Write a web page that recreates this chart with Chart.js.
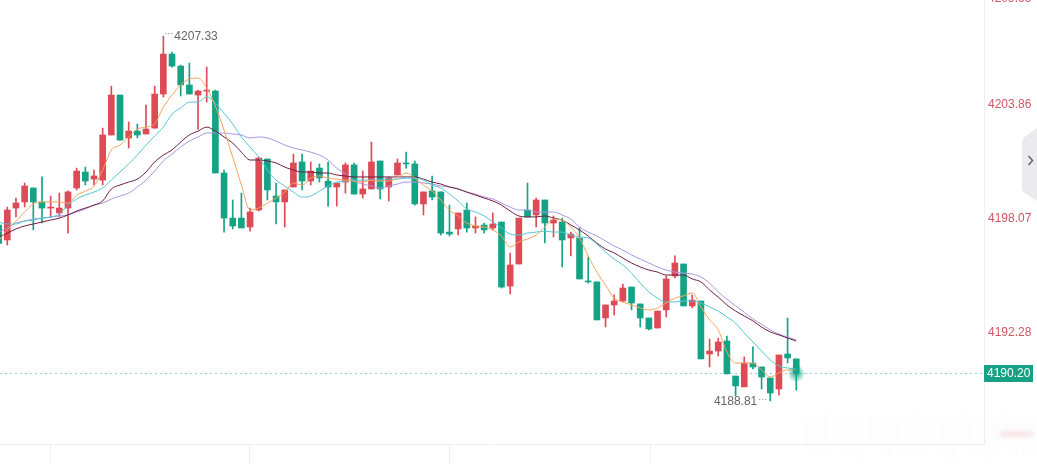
<!DOCTYPE html>
<html>
<head>
<meta charset="utf-8">
<script src="https://cdn.jsdelivr.net/npm/chart.js@4.4.1/dist/chart.umd.min.js"></script>
<style>
  html, body { margin: 0; padding: 0; background: #fff; overflow: hidden; }
  #wrap { position: absolute; left: 0; top: -20px; width: 1037px; height: 484px; }
</style>
</head>
<body>
<div id="wrap"><canvas id="klineChart"></canvas></div>
<script>
// candle data (one per bar, oldest first)
const openData = [4197.74,4196.98,4198.60,4198.91,4199.62,4198.91,4198.60,4198.35,4198.60,4199.62,
  4200.43,4200.07,4200.02,4202.31,4204.34,4202.16,4202.51,4202.36,4202.66,4204.39,
  4206.42,4205.81,4204.85,4204.34,4204.54,4204.54,4200.38,4198.09,4198.09,4197.64,
  4198.50,4201.09,4199.21,4198.91,4199.67,4200.94,4199.97,4200.63,4199.97,4199.67,
  4199.92,4200.79,4199.31,4199.57,4200.99,4199.67,4200.28,4200.89,4200.84,4198.81,
  4199.47,4199.42,4197.38,4197.54,4198.50,4197.59,4197.74,4197.59,4197.89,4194.64,
  4195.76,4198.50,4198.25,4199.01,4197.84,4197.89,4197.08,4197.08,4194.90,4194.85,
  4193.02,4193.68,4193.88,4194.59,4193.73,4193.02,4192.51,4193.43,4195.15,4195.76,
  4193.63,4193.88,4191.19,4191.34,4191.85,4190.07,4189.52,4190.73,4190.53,4189.97,
  4189.41,4191.19,4190.94];
const highData = [4197.90,4198.65,4199.11,4199.87,4199.62,4200.18,4199.21,4199.36,4199.47,4200.63,
  4200.68,4200.53,4202.66,4204.79,4204.34,4202.97,4202.87,4203.83,4204.79,4207.33,
  4206.52,4205.86,4205.96,4204.59,4205.76,4204.59,4200.53,4199.01,4199.36,4198.60,
  4201.19,4201.09,4199.87,4199.52,4201.34,4201.34,4200.94,4200.84,4200.94,4199.87,
  4200.89,4200.89,4200.48,4201.95,4200.99,4200.18,4201.09,4201.44,4200.99,4199.42,
  4200.23,4199.42,4198.75,4198.35,4198.86,4198.15,4197.84,4198.35,4197.89,4196.32,
  4198.09,4199.87,4199.11,4199.01,4198.20,4198.09,4197.38,4197.59,4196.11,4194.85,
  4193.68,4194.19,4194.74,4194.59,4193.73,4193.02,4193.37,4195.15,4196.17,4195.76,
  4194.19,4193.88,4191.95,4192.00,4192.10,4190.07,4191.04,4191.55,4190.53,4189.97,
  4191.14,4193.02,4190.94];
const lowData = [4196.60,4196.72,4198.15,4198.65,4197.49,4197.84,4198.15,4198.15,4197.33,4199.52,
  4199.77,4199.77,4199.77,4202.31,4202.05,4201.65,4202.16,4202.36,4202.66,4204.24,
  4205.76,4204.29,4204.39,4202.61,4203.98,4200.38,4197.38,4197.54,4197.59,4197.43,
  4198.45,4199.01,4197.79,4197.64,4199.67,4199.52,4199.77,4199.92,4198.70,4198.70,
  4199.36,4199.31,4199.11,4199.57,4199.06,4198.96,4200.28,4200.63,4198.75,4198.25,
  4199.01,4197.23,4197.18,4197.23,4197.38,4197.33,4197.33,4197.49,4194.54,4194.24,
  4195.76,4198.15,4197.64,4196.83,4197.13,4195.61,4196.17,4195.00,4194.79,4192.92,
  4192.56,4193.17,4193.83,4193.43,4192.56,4192.41,4192.51,4193.07,4195.05,4193.63,
  4193.53,4190.94,4190.53,4191.09,4190.18,4189.06,4189.52,4190.43,4189.41,4188.81,
  4189.11,4190.73,4189.36];
const closeData = [4196.80,4198.50,4198.86,4199.72,4198.91,4198.60,4198.65,4198.60,4199.42,4200.48,
  4199.97,4200.23,4202.31,4204.34,4202.05,4202.51,4202.31,4202.61,4204.39,4206.42,
  4205.81,4204.85,4204.39,4204.54,4204.59,4200.38,4198.09,4197.69,4197.59,4198.40,
  4201.14,4199.52,4198.91,4199.52,4200.89,4199.97,4200.48,4200.13,4199.67,4199.87,
  4200.79,4199.31,4199.57,4200.94,4199.57,4200.13,4200.89,4200.84,4198.81,4199.42,
  4199.16,4197.33,4197.28,4198.35,4197.59,4197.69,4197.49,4197.79,4194.59,4195.71,
  4198.09,4198.15,4199.01,4197.84,4197.99,4196.98,4197.28,4195.00,4194.85,4192.92,
  4193.68,4193.88,4194.54,4193.78,4193.02,4192.46,4193.37,4195.00,4195.81,4193.63,
  4193.93,4190.94,4191.34,4191.80,4190.18,4189.57,4190.73,4190.53,4190.02,4189.21,
  4191.14,4190.99,4190.20];

// moving average lines
const ma5Data = [4196.93,4197.49,4197.94,4198.40,4198.80,4198.91,4198.91,4198.91,4198.85,4199.26,
  4199.46,4199.72,4200.53,4201.55,4201.80,4202.21,4202.61,4202.71,4202.87,4203.73,
  4204.34,4204.85,4205.15,4205.20,4204.69,4203.78,4202.56,4201.19,4199.77,4198.50,
  4198.60,4198.85,4199.11,4199.41,4199.87,4199.77,4200.12,4200.23,4200.12,4200.07,
  4200.02,4199.97,4199.92,4200.02,4199.97,4199.97,4200.12,4200.38,4200.12,4199.77,
  4199.46,4199.01,4198.50,4198.20,4197.84,4197.69,4197.64,4197.49,4197.18,4196.62,
  4196.88,4197.03,4197.23,4197.64,4198.04,4197.99,4197.64,4197.08,4196.17,4195.35,
  4194.69,4194.03,4193.83,4193.68,4193.53,4193.42,4193.53,4193.78,4194.03,4194.14,
  4194.29,4193.58,4192.92,4192.41,4191.29,4190.73,4190.73,4190.73,4190.38,4190.02,
  4190.23,4190.38,4190.38];
const ma10Data = [4197.89,4197.79,4197.79,4197.94,4197.99,4198.09,4198.14,4198.30,4198.75,4199.06,
  4199.26,4199.41,4199.62,4200.02,4200.43,4200.84,4201.29,4201.80,4202.26,4202.71,
  4203.37,4203.68,4203.98,4203.98,4204.24,4203.93,4203.42,4202.87,4202.21,4201.70,
  4201.19,4200.53,4200.02,4199.72,4199.41,4199.16,4199.21,4199.46,4199.72,4199.92,
  4199.97,4200.02,4200.02,4200.02,4200.02,4200.07,4200.07,4200.12,4200.12,4200.02,
  4199.77,4199.62,4199.31,4198.96,4198.55,4198.40,4198.20,4197.89,4197.59,4197.28,
  4197.23,4197.33,4197.38,4197.43,4197.38,4197.38,4197.23,4197.13,4197.08,4196.77,
  4196.37,4196.01,4195.71,4195.30,4194.79,4194.34,4194.03,4193.83,4193.83,4193.88,
  4193.88,4193.78,4193.58,4193.37,4193.07,4192.76,4192.26,4191.80,4191.34,4190.89,
  4190.58,4190.48,4190.43];
const ma20Data = [4197.13,4197.33,4197.54,4197.69,4197.79,4197.89,4197.99,4198.09,4198.25,4198.45,
  4198.60,4198.75,4198.96,4199.57,4199.77,4199.92,4200.07,4200.43,4200.94,4201.29,
  4201.55,4201.95,4202.31,4202.51,4202.71,4202.51,4202.21,4201.90,4201.44,4201.04,
  4201.04,4200.99,4200.89,4200.68,4200.53,4200.43,4200.43,4200.38,4200.38,4200.28,
  4200.23,4200.18,4200.18,4200.18,4200.18,4200.18,4200.18,4200.18,4200.18,4200.07,
  4199.92,4199.82,4199.67,4199.57,4199.41,4199.26,4199.11,4198.96,4198.75,4198.45,
  4198.20,4198.15,4198.15,4198.20,4198.09,4197.99,4197.74,4197.49,4197.18,4196.82,
  4196.52,4196.32,4196.06,4195.81,4195.61,4195.45,4195.35,4195.20,4195.20,4195.20,
  4195.00,4194.85,4194.44,4194.08,4193.68,4193.37,4193.12,4192.87,4192.56,4192.31,
  4192.16,4192.00,4191.85];
const ma30Data = [4197.38,4197.59,4197.84,4197.94,4198.04,4198.09,4198.14,4198.20,4198.25,4198.40,
  4198.55,4198.75,4198.85,4199.06,4199.21,4199.36,4199.67,4200.02,4200.48,4200.99,
  4201.34,4201.70,4202.00,4202.21,4202.41,4202.41,4202.41,4202.36,4202.31,4202.16,
  4202.21,4202.16,4202.00,4201.80,4201.65,4201.55,4201.44,4201.29,4201.04,4200.63,
  4200.33,4199.97,4199.82,4199.72,4199.62,4199.72,4199.82,4199.92,4199.92,4199.87,
  4199.82,4199.72,4199.67,4199.57,4199.41,4199.31,4199.16,4199.06,4198.85,4198.65,
  4198.50,4198.50,4198.40,4198.40,4198.40,4198.25,4198.04,4197.64,4197.38,4197.18,
  4196.93,4196.67,4196.47,4196.22,4196.01,4195.81,4195.61,4195.45,4195.35,4195.30,
  4195.25,4195.10,4194.79,4194.34,4193.98,4193.63,4193.32,4192.97,4192.71,4192.41,
  4192.20,4192.05,4191.90];

const priceTicks = [4192.28, 4198.07, 4203.86, 4209.65];
const timeTicks = [6.04, 28.99, 52.06, 75.13];   // bar-index positions of the time grid marks

const UP = '#dd4b57';
const DOWN = '#15a386';
const TICK_COLOR = '#cf5663';
const candleColor = (c) => closeData[c.dataIndex] >= openData[c.dataIndex] ? UP : DOWN;
const pts = (arr) => arr.map((v, i) => ({ x: i, y: v }));

Chart.defaults.font.family = 'Arial, "Liberation Sans", sans-serif';
Chart.defaults.font.size = 12;

const overlay = {
  id: 'overlay',
  beforeDatasetsDraw(chart) {
    const { ctx, chartArea, scales: { y } } = chart;
    const ly = Math.round(y.getPixelForValue(closeData[closeData.length - 1])) + 0.5;
    ctx.save();
    ctx.strokeStyle = 'rgba(21,163,134,0.45)';
    ctx.lineWidth = 1;
    ctx.setLineDash([2, 3]);
    ctx.beginPath(); ctx.moveTo(chartArea.left, ly); ctx.lineTo(chartArea.right, ly); ctx.stroke();
    ctx.restore();
  },
  afterDatasetsDraw(chart) {
    const { ctx, scales: { x, y } } = chart;
    ctx.save();
    ctx.font = '12px Arial, "Liberation Sans", sans-serif';
    ctx.fillStyle = '#666';
    ctx.strokeStyle = '#888';
    ctx.lineWidth = 1;
    ctx.setLineDash([1, 2]);
    ctx.textBaseline = 'middle';

    // highest high
    const hi = highData.indexOf(Math.max(...highData));
    const hx = x.getPixelForValue(hi), hy = y.getPixelForValue(highData[hi]);
    ctx.beginPath(); ctx.moveTo(hx + 2, Math.round(hy) - 2.5); ctx.lineTo(hx + 10, Math.round(hy) - 2.5); ctx.stroke();
    ctx.textAlign = 'left';
    ctx.fillText(highData[hi].toFixed(2), hx + 11, hy + 1);

    // lowest low
    const lo = lowData.indexOf(Math.min(...lowData));
    const lx = x.getPixelForValue(lo), lyy = y.getPixelForValue(lowData[lo]);
    ctx.beginPath(); ctx.moveTo(lx - 11, Math.round(lyy) - 1.5); ctx.lineTo(lx - 2, Math.round(lyy) - 1.5); ctx.stroke();
    ctx.textAlign = 'right';
    ctx.fillText(lowData[lo].toFixed(2), lx - 13, lyy + 1);

    // glowing last price point
    const last = closeData.length - 1;
    const gx = x.getPixelForValue(last), gy = y.getPixelForValue(closeData[last]);
    const g = ctx.createRadialGradient(gx, gy, 0, gx, gy, 9);
    g.addColorStop(0, 'rgba(21,163,134,0.95)');
    g.addColorStop(0.4, 'rgba(21,163,134,0.55)');
    g.addColorStop(1, 'rgba(21,163,134,0)');
    ctx.fillStyle = g;
    ctx.beginPath(); ctx.arc(gx, gy, 9, 0, Math.PI * 2); ctx.fill();
    ctx.restore();
  },
  afterDraw(chart) {
    const { ctx, chartArea, scales: { y } } = chart;
    const last = closeData[closeData.length - 1];
    const ty = y.getPixelForValue(last);
    ctx.save();
    ctx.font = '12px Arial, "Liberation Sans", sans-serif';
    ctx.textAlign = 'left';
    ctx.textBaseline = 'middle';

    // top tick label sits above the visible edge; the app clamps it so its lower part shows
    const topTick = priceTicks[priceTicks.length - 1];
    const topPx = y.getPixelForValue(topTick);
    const visibleTop = 20;
    if (topPx < visibleTop) {
      ctx.fillStyle = TICK_COLOR;
      ctx.fillText(topTick.toFixed(2), chartArea.right + 4, Math.max(topPx, visibleTop - 1));
    }

    // last price tag
    ctx.fillStyle = '#17a085';
    ctx.fillRect(chartArea.right, Math.round(ty) - 8, 49, 17);
    ctx.fillStyle = '#fff';
    ctx.fillText(last.toFixed(2), chartArea.right + 3, Math.round(ty) + 1);

    // side toggle button
    ctx.fillStyle = '#ebebee';
    ctx.beginPath();
    ctx.moveTo(1037, 148); ctx.lineTo(1026, 156); ctx.quadraticCurveTo(1022, 158, 1022, 163);
    ctx.lineTo(1022, 208); ctx.quadraticCurveTo(1022, 212, 1026, 214); ctx.lineTo(1037, 221);
    ctx.closePath(); ctx.fill();
    ctx.strokeStyle = '#666'; ctx.lineWidth = 1.5;
    ctx.beginPath(); ctx.moveTo(1028.5, 176); ctx.lineTo(1032.5, 180.5); ctx.lineTo(1028.5, 185); ctx.stroke();

    // faint navigator strip, bottom right
    ctx.filter = 'blur(2.5px)';
    ctx.fillStyle = 'rgba(150,150,150,0.06)';
    for (let px = 806; px < 1032; px += 9) {
      ctx.fillRect(px, 442 - (px % 5) * 2, 3, 28 + (px % 7) * 2);
    }
    ctx.strokeStyle = 'rgba(221,75,87,0.4)';
    ctx.lineWidth = 2;
    ctx.beginPath(); ctx.moveTo(1000, 454); ctx.lineTo(1032, 454); ctx.stroke();
    ctx.filter = 'none';
    ctx.restore();
  }
};

const ctx = document.getElementById('klineChart').getContext('2d');
const klineChart = new Chart(ctx, {
  type: 'bar',
  data: {
    datasets: [
      { type: 'line', label: 'MA5', data: pts(ma5Data), borderColor: '#f5a35f', borderWidth: 1, pointRadius: 0, cubicInterpolationMode: 'monotone', order: 0 },
      { type: 'line', label: 'MA10', data: pts(ma10Data), borderColor: '#52c6d5', borderWidth: 1, pointRadius: 0, cubicInterpolationMode: 'monotone', order: 0 },
      { type: 'line', label: 'MA20', data: pts(ma20Data), borderColor: '#6e1f40', borderWidth: 1, pointRadius: 0, cubicInterpolationMode: 'monotone', order: 0 },
      { type: 'line', label: 'MA30', data: pts(ma30Data), borderColor: '#a895dd', borderWidth: 1, pointRadius: 0, cubicInterpolationMode: 'monotone', order: 0 },
      {
        label: 'body',
        data: openData.map((o, i) => ({ x: i, y: [o, closeData[i]] })),
        backgroundColor: candleColor,
        barThickness: 6,
        minBarLength: 1,
        grouped: false,
        order: 1
      },
      {
        label: 'wick',
        data: lowData.map((l, i) => ({ x: i, y: [l, highData[i]] })),
        backgroundColor: candleColor,
        barThickness: 1,
        grouped: false,
        order: 2
      }
    ]
  },
  options: {
    responsive: true,
    maintainAspectRatio: false,
    animation: false,
    layout: { padding: 0, autoPadding: false },
    plugins: {
      legend: { display: false },
      tooltip: { enabled: false }
    },
    scales: {
      x: {
        type: 'linear',
        min: 0.158,
        max: 113.653,
        offset: false,
        afterBuildTicks: (s) => { s.ticks = timeTicks.map(v => ({ value: v })); },
        afterFit: (s) => { s.height = 20; s.paddingLeft = 0; s.paddingRight = 0; },
        ticks: { display: false },
        grid: { display: true, offset: false, drawOnChartArea: false, drawTicks: true, tickLength: 20, color: '#efefef' },
        border: { display: true, color: '#f0f0f0' }
      },
      y: {
        type: 'linear',
        position: 'right',
        min: 4186.62,
        max: 4210.18,
        afterBuildTicks: (s) => { s.ticks = priceTicks.map(v => ({ value: v })); },
        afterFit: (s) => { s.width = 53; s.paddingTop = 0; s.paddingBottom = 0; },
        ticks: {
          padding: 4,
          color: TICK_COLOR,
          font: { size: 12 },
          callback: (v) => Number(v).toFixed(2)
        },
        grid: { display: false, drawTicks: false },
        border: { display: true, color: '#f0f0f0' }
      }
    }
  },
  plugins: [overlay]
});
</script>
</body>
</html>
